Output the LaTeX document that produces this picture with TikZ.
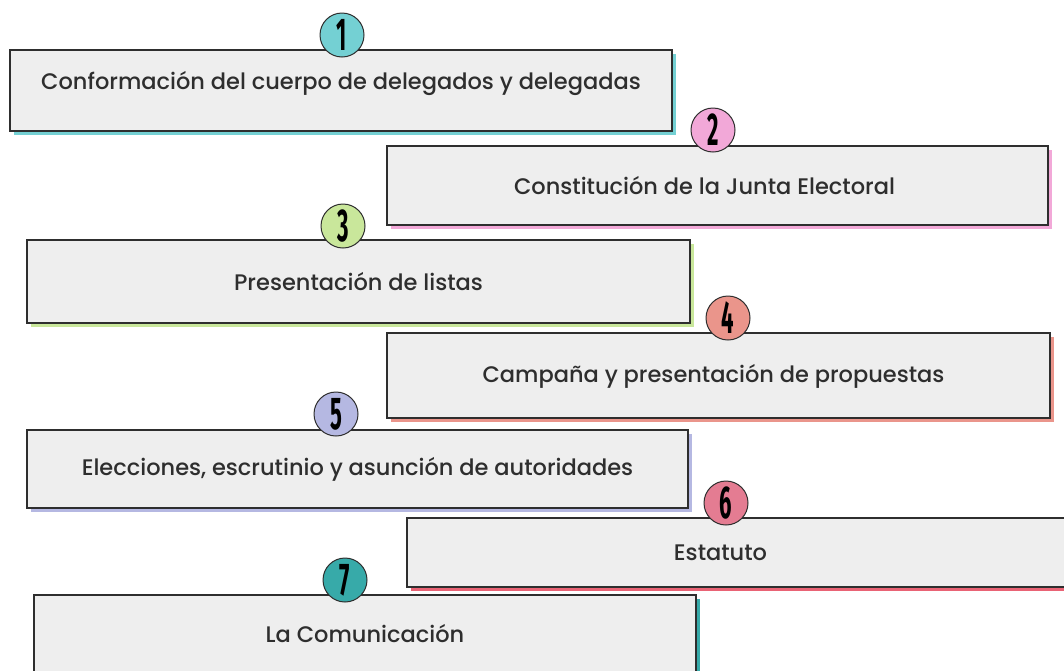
\documentclass[tikz,border=0pt]{standalone}
\usepackage{fontspec}
\setmainfont{Poppins}[UprightFont={* Medium}]
\newfontfamily\numfont{Fira Sans}
\usetikzlibrary{shadows}

\definecolor{inkgray}{HTML}{2E2E2E}
\definecolor{boxfill}{HTML}{EEEEEE}
\definecolor{cTeal}{HTML}{74D0D3}
\definecolor{cPink}{HTML}{F2A8D8}
\definecolor{cGreen}{HTML}{C9E79B}
\definecolor{cSalmon}{HTML}{EA958B}
\definecolor{cLilac}{HTML}{B5B8E2}
\definecolor{cRose}{HTML}{E47C92}
\definecolor{cSea}{HTML}{37AAA9}

\tikzset{
  stepbox/.style={draw=inkgray, fill=boxfill, line width=1.4pt, minimum width=#1,
    inner sep=0pt, text=inkgray, font=\fontsize{22.5}{26}\selectfont},
  edgecol/.style={drop shadow={shadow xshift=3.5pt, shadow yshift=-3.5pt, fill=#1, opacity=1}},
  numdot/.style={circle, draw=inkgray, line width=1pt, fill=#1, minimum size=44pt,
    inner sep=0pt, text=black, font=\numfont\bfseries\fontsize{46}{46}\selectfont}
}
\newcommand{\narrow}[1]{\scalebox{0.48}[1]{#1}}

\begin{document}
\begin{tikzpicture}[x=1pt, y=-1pt]
\useasboundingbox (0,0) rectangle (1064,670);
\node[stepbox=662pt, minimum height=81pt, text depth=20pt, edgecol=cTeal] (conf) at (341,90.5) {Conformación del cuerpo de delegados y delegadas};
\node[stepbox=661pt, minimum height=79pt, edgecol=cPink] (junta) at (717.5,185.5) {\hspace*{-26pt}Constitución de la Junta Electoral};
\node[stepbox=663pt, minimum height=83pt, edgecol=cGreen] (listas) at (358.5,281.5) {Presentación de listas};
\node[stepbox=663pt, minimum height=85pt, text depth=4pt, edgecol=cSalmon] (campana) at (718.5,375.5) {\hspace*{-10pt}Campaña y presentación de propuestas};
\node[stepbox=661pt, minimum height=78pt, edgecol=cLilac] (elecc) at (357.5,469) {Elecciones, escrutinio y asunción de autoridades};
\node[stepbox=663pt, minimum height=69pt, edgecol=cRose!80!red] (estat) at (738.5,552.5) {\hspace*{-36pt}Estatuto};
\node[stepbox=662pt, minimum height=85pt, text depth=8pt, edgecol=cSea] (comun) at (365,637.5) {La Comunicación};

\node[numdot=cTeal] (n1) at (342,35) {\narrow{1}};
\node[numdot=cPink] (n2) at (713,130) {\narrow{2}};
\node[numdot=cGreen] (n3) at (343,226) {\narrow{3}};
\node[numdot=cSalmon] (n4) at (728,318) {\narrow{4}};
\node[numdot=cLilac] (n5) at (336,414) {\narrow{5}};
\node[numdot=cRose] (n6) at (726,503) {\narrow{6}};
\node[numdot=cSea] (n7) at (345,580) {\narrow{7}};
\end{tikzpicture}
\end{document}
